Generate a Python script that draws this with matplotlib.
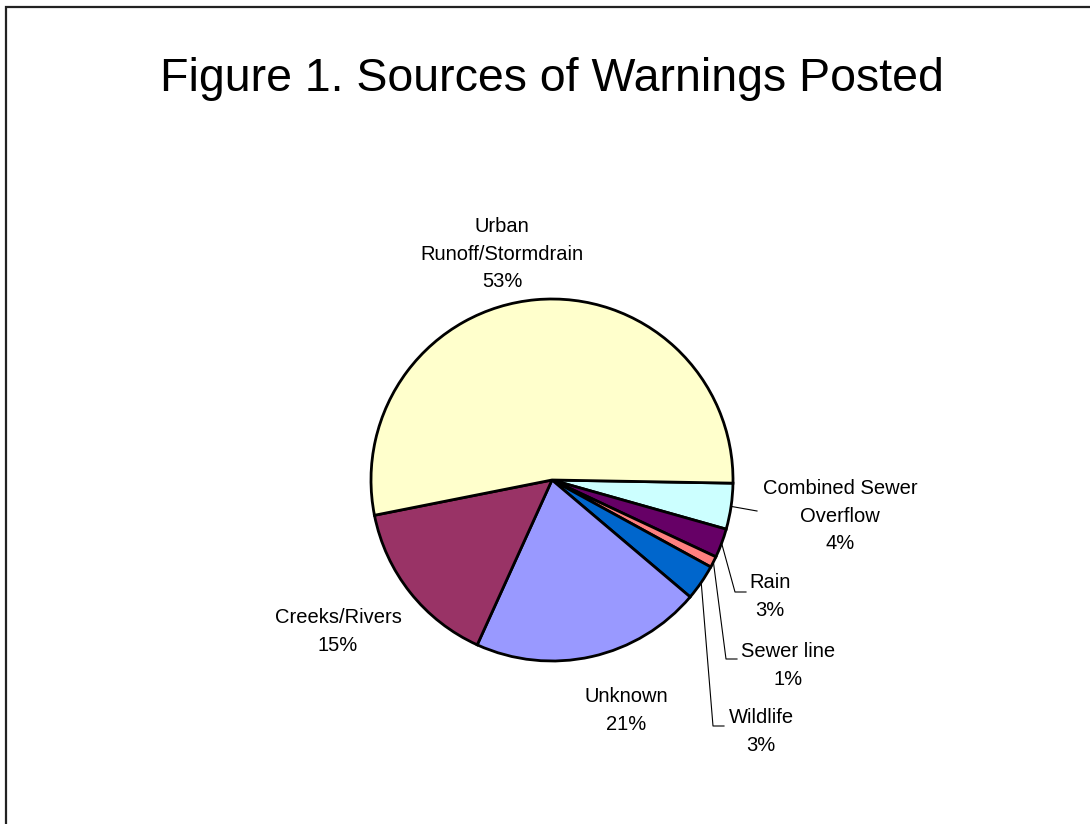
"""Figure 1: sources of warnings posted (pie with leader-line labels)."""
import numpy as np
import matplotlib
matplotlib.use("Agg")
import matplotlib.pyplot as plt
from matplotlib.patches import Rectangle

plt.rcParams["font.family"] = ["Liberation Sans", "DejaVu Sans"]

# clockwise from 3 o'clock
labels = ["Combined Sewer\nOverflow", "Rain", "Sewer line", "Wildlife",
          "Unknown", "Creeks/Rivers", "Urban\nRunoff/Stormdrain"]
values = [4.1, 2.6, 1.0, 3.2, 20.6, 15.1, 53.4]
colors = ["#CCFFFF", "#660066", "#FF8080", "#0066CC",
          "#9999FF", "#993366", "#FFFFCC"]

W, H = 1090, 824
CX, CY, R = 552, 480, 181   # pixel layout


def py(y):
    return H - y


fig = plt.figure(figsize=(W / 100, H / 100), dpi=100)
ax = fig.add_axes([0, 0, 1, 1])
wedges, _ = ax.pie(values, colors=colors, startangle=-1, counterclock=False,
                   center=(CX, py(CY)), radius=R,
                   wedgeprops=dict(edgecolor="black", linewidth=2))
ax.set_xlim(0, W)
ax.set_ylim(0, H)
ax.set_aspect("equal")
ax.axis("off")

# label anchor (center x, top of first line) and optional leader elbow
lab_pos = [(840, 479), (770, 573), (788, 642), (761, 708),
           (626, 687), (338, 608), (502, 217)]
leaders = [[(757, 511)],
           [(735, 592), (746, 592)],
           [(726, 659), (737, 659)],
           [(713, 726), (724, 726)],
           None, None, None]

tot = sum(values)
for w, lab, v, (lx, ly), ld in zip(wedges, labels, values, lab_pos, leaders):
    pct = "%d%%" % int(round(100 * v / tot))
    ax.text(lx, py(ly), lab + "\n" + pct, ha="center", va="top",
            fontsize=14.5, linespacing=1.58)
    if ld:
        th = np.deg2rad((w.theta1 + w.theta2) / 2)
        xs = [CX + R * np.cos(th)] + [p[0] for p in ld]
        ys = [py(CY) + R * np.sin(th)] + [py(p[1]) for p in ld]
        ax.plot(xs, ys, color="black", lw=0.8)

fig.text(552 / W, 1 - 91 / H, "Figure 1. Sources of Warnings Posted",
         ha="center", va="baseline", fontsize=33.5)

# chart border (cropped at right/bottom)
fig.patches.append(Rectangle((5.5 / W, -0.1), 1.2, 1 - 6.5 / H + 0.1,
                             transform=fig.transFigure, fill=False,
                             edgecolor="#222222", lw=1.6))

fig.savefig("out.png", dpi=100)
print("saved out.png")
